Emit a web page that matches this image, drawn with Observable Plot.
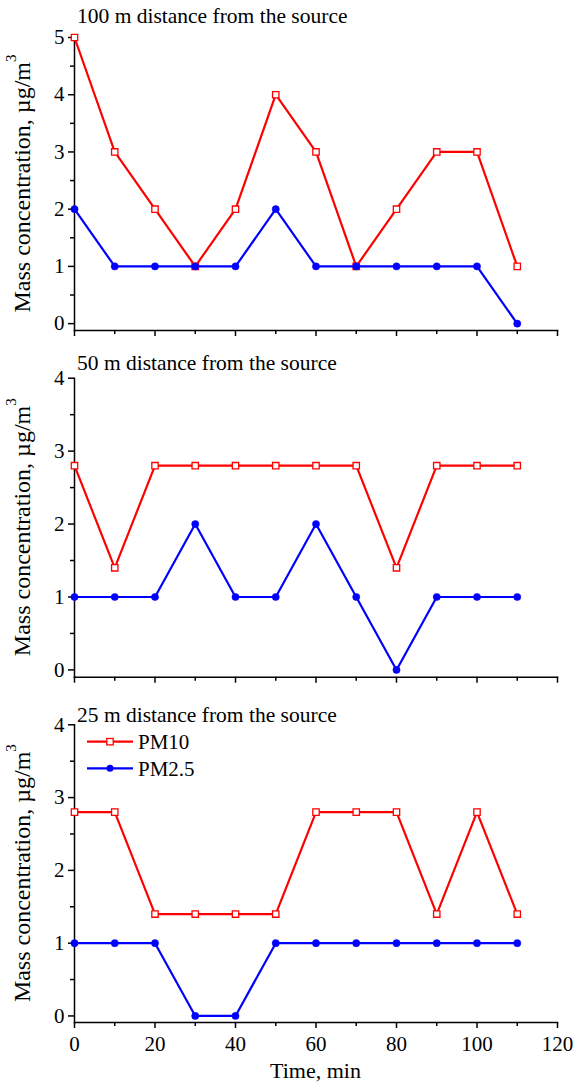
<!DOCTYPE html>
<html><head><meta charset="utf-8">
<script src="https://cdn.jsdelivr.net/npm/d3@7"></script>
<script src="https://cdn.jsdelivr.net/npm/@observablehq/plot@0.6"></script>
<style>
body{margin:0;background:#fff;}
#chart svg{display:block;}
#chart svg, #chart svg text, #chart svg tspan{font-family:"Liberation Serif","Times New Roman",Times,serif !important;}
</style></head><body><div id="chart"></div>
<script>
// ---- data ----
const times = [0, 10, 20, 30, 40, 50, 60, 70, 80, 90, 100, 110];
const seriesNames = ["PM10", "PM2.5"];
const panelTitles = ["100 m distance from the source", "50 m distance from the source", "25 m distance from the source"];
const pm10_100m = [5, 3, 2, 1, 2, 4, 3, 1, 2, 3, 3, 1];
const pm25_100m = [2, 1, 1, 1, 1, 2, 1, 1, 1, 1, 1, 0];
const pm10_50m = [2.8, 1.4, 2.8, 2.8, 2.8, 2.8, 2.8, 2.8, 1.4, 2.8, 2.8, 2.8];
const pm25_50m = [1, 1, 1, 2, 1, 1, 2, 1, 0, 1, 1, 1];
const pm10_25m = [2.8, 2.8, 1.4, 1.4, 1.4, 1.4, 2.8, 2.8, 2.8, 1.4, 2.8, 1.4];
const pm25_25m = [1, 1, 1, 0, 0, 1, 1, 1, 1, 1, 1, 1];
const xTicks = [0, 20, 40, 60, 80, 100, 120];
const xLabel = "Time, min";
const yLabel = "Mass concentration, µg/m";

// ---- layout ----
const FONT = "Liberation Serif, Times New Roman, Times, serif";
const RED = "#ff0000", BLUE = "#0000ff";
const panels = [
  {title: panelTitles[0], pm10: pm10_100m, pm25: pm25_100m, ymax: 5, ymin: -0.12, height: 340, mt: 37, mb: 10, titleY: 22.7, showX: false, legend: false},
  {title: panelTitles[1], pm10: pm10_50m, pm25: pm25_50m, ymax: 4, ymin: -0.1, height: 350, mt: 37.7, mb: 13.3, titleY: 30, showX: false, legend: false},
  {title: panelTitles[2], pm10: pm10_25m, pm25: pm25_25m, ymax: 4, ymin: -0.09, height: 394, mt: 34.3, mb: 62, titleY: 32, showX: true, legend: true}
];
const ML = 74, MR = 19, W = 576;

const root = document.getElementById("chart");
for (const p of panels) {
  const d10 = times.map((t, i) => ({t, v: p.pm10[i], s: seriesNames[0]}));
  const d25 = times.map((t, i) => ({t, v: p.pm25[i], s: seriesNames[1]}));
  const node = Plot.plot({
    width: W, height: p.height,
    marginLeft: ML, marginRight: MR, marginTop: p.mt, marginBottom: p.mb,
    style: {fontFamily: FONT, fontSize: "21px", color: "black", background: "white", overflow: "visible"},
    x: {domain: [0, 120], label: null},
    y: {domain: [p.ymin, p.ymax], label: null},
    marks: [
      Plot.axisY({ticks: d3.range(0, p.ymax + 0.01, 1), tickSize: 6, tickPadding: 4, strokeWidth: 1.5, label: null, fontSize: 21, fontFamily: FONT, tickFormat: d => String(d)}),
      Plot.axisY({ticks: d3.range(0.5, p.ymax, 1), tickSize: 4, tickFormat: () => "", strokeWidth: 1.5, label: null}),
      Plot.axisX({ticks: xTicks, tickSize: 6, tickPadding: 8, strokeWidth: 1.5, label: null, fontSize: 21, fontFamily: FONT, tickFormat: p.showX ? (d => String(d)) : (() => "")}),
      Plot.axisX({ticks: d3.range(10, 120, 20), tickSize: 4, tickFormat: () => "", strokeWidth: 1.5, label: null}),
      Plot.frame({anchor: "left", strokeWidth: 1.5}),
      Plot.frame({anchor: "bottom", strokeWidth: 1.5}),
      Plot.line(d10, {x: "t", y: "v", stroke: RED, strokeWidth: 2.2}),
      Plot.dot(d10, {x: "t", y: "v", symbol: "square", r: 3.6, stroke: RED, fill: "white", strokeWidth: 1.3}),
      Plot.line(d25, {x: "t", y: "v", stroke: BLUE, strokeWidth: 2.2}),
      Plot.dot(d25, {x: "t", y: "v", symbol: "circle", r: 3.6, fill: BLUE, stroke: BLUE, strokeWidth: 0.5})
    ]
  });
  const svg = d3.select(node);
  // panel title
  svg.append("text").attr("x", 77).attr("y", p.titleY).attr("text-anchor", "start")
    .attr("font-size", 21.5).attr("fill", "black").text(p.title);
  // y label with superscript
  const cy = (p.mt + (p.height - p.mb)) / 2;
  const yl = svg.append("text").attr("transform", `translate(30,${cy}) rotate(-90)`)
    .attr("text-anchor", "middle").attr("font-size", 24).attr("fill", "black");
  yl.append("tspan").text(yLabel);
  yl.append("tspan").attr("dy", -14).attr("font-size", 15).text("3");
  if (p.showX) {
    svg.append("text").attr("x", (ML + W - MR) / 2).attr("y", 388).attr("text-anchor", "middle")
      .attr("font-size", 22).attr("fill", "black").text(xLabel);
  }
  if (p.legend) {
    const items = [{name: seriesNames[0], color: RED, sym: "square", y: 51.7}, {name: seriesNames[1], color: BLUE, sym: "circle", y: 78.3}];
    for (const it of items) {
      const g = svg.append("g");
      g.append("line").attr("x1", 87).attr("x2", 133).attr("y1", it.y).attr("y2", it.y)
        .attr("stroke", it.color).attr("stroke-width", 2.2);
      if (it.sym === "square") {
        g.append("rect").attr("x", 110 - 3.2).attr("y", it.y - 3.2).attr("width", 6.4).attr("height", 6.4)
          .attr("fill", "white").attr("stroke", it.color).attr("stroke-width", 1.3);
      } else {
        g.append("circle").attr("cx", 110).attr("cy", it.y).attr("r", 3.5).attr("fill", it.color);
      }
      g.append("text").attr("x", 138).attr("y", it.y + 7.3).attr("text-anchor", "start").attr("font-size", 21)
        .attr("fill", "black").text(it.name);
    }
  }
  root.appendChild(node);
}
</script>
</body></html>
